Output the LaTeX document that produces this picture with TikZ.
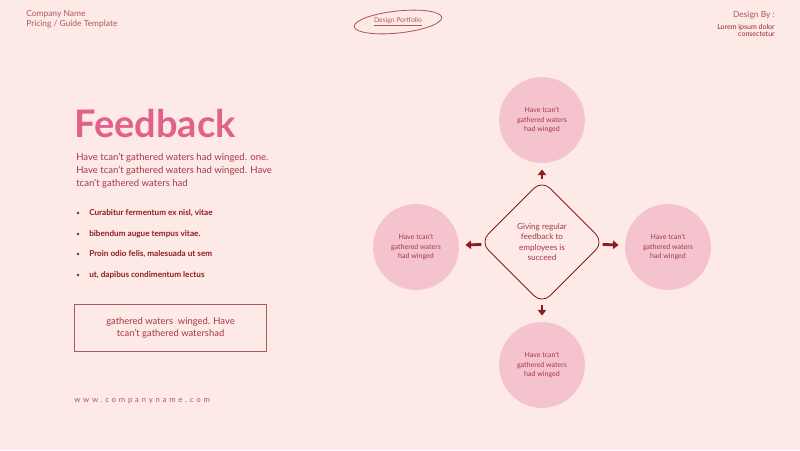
\documentclass[tikz,border=0pt]{standalone}
\usepackage{fontspec}
\setmainfont{Lato}
\usetikzlibrary{shapes.geometric,arrows.meta}
\definecolor{bgpink}{HTML}{FDE9E5}
\definecolor{petal}{HTML}{F4C3CD}
\definecolor{rose}{HTML}{E0628A}
\definecolor{dusty}{HTML}{B0585E}
\definecolor{wine}{HTML}{A3384A}
\definecolor{maroon}{HTML}{8C1C22}
\newcommand{\fsz}[2]{\fontsize{#1}{#2}\selectfont}
\begin{document}
\begin{tikzpicture}[x=0.025cm, y=-0.025cm, line join=round, line cap=round,
	>={Triangle[length=4pt,width=6pt]},
	circ/.style={circle, fill=petal, minimum size=61pt, inner sep=0pt,
		align=center, text=wine, font=\fsz{5}{7}},
	hub/.style={diamond, draw=maroon, line width=0.6pt, rounded corners=8pt,
		minimum size=88pt, inner sep=0pt, align=center, text=wine, font=\fsz{5.8}{7.5}},
	arr/.style={->, line width=2pt, draw=maroon, line cap=butt,
		shorten <=0.5pt, shorten >=4.5pt}]
	\useasboundingbox[fill=bgpink] (0,0) rectangle (800,450);
	\node[anchor=north west, align=left, text=dusty, font=\fsz{6}{7.2}, inner sep=0pt]
		(company) at (26,10) {Company Name\\Pricing / Guide Template};
	\node[text=dusty, font=\fsz{4.8}{6}, inner sep=0pt] (port) at (398,22)
		{\underline{Design Portfolio}};
	\draw[dusty, line width=0.6pt, rotate around={6:(port.center)}]
		(port.center) ellipse [x radius=44, y radius=11];
	\node[anchor=east, text=dusty, font=\fsz{6}{7}, inner sep=0pt] (designby) at (775,15) {Design By :};
	\node[anchor=north east, align=right, text=maroon!80!dusty, font=\fsz{5}{5.2}, inner sep=0pt]
		(lorem) at (775,24) {Lorem ipsum dolor\\consectetur};
	\node[anchor=base west, text=rose, font=\fsz{27}{30}\bfseries, inner sep=0pt]
		(title) at (74,137) {Feedback};
	\node[anchor=north west, align=left, text=wine, font=\fsz{6.8}{9.3}, inner sep=0pt]
		(intro) at (76,153) {Have tcan't gathered waters had winged. one.\\
		Have tcan't gathered waters had winged. Have\\tcan't gathered waters had};
	\foreach \y/\txt in {213/{Curabitur fermentum ex nisl, vitae}, 234/{bibendum augue tempus vitae.},
		254/{Proin odio felis, malesuada ut sem}, 275/{ut, dapibus condimentum lectus}}{
		\fill[maroon] (78,\y) circle (0.9pt);
		\node[anchor=west, text=maroon, font=\fsz{5.8}{7}\bfseries, inner sep=0pt] at (89,\y) {\txt};
	}
	\node[draw=dusty, line width=0.8pt, minimum width=137pt, minimum height=34pt,
		align=center, text=wine, font=\fsz{6.7}{8.3}] (note) at (170.5,328)
		{gathered waters\ \ winged. Have\\tcan't gathered watershad};
	\node[anchor=west, text=dusty, font=\fsz{5.5}{7}\addfontfeature{LetterSpace=36}, inner sep=0pt]
		(web) at (74,401) {www.companyname.com};
	\node[hub] (hub) at (542,242) {Giving regular\\feedback to\\employees is\\succeed};
	\node[circ] (top) at (542,120) {Have tcan't\\gathered waters\\had winged};
	\node[circ] (left) at (416,247) {Have tcan't\\gathered waters\\had winged};
	\node[circ] (right) at (668,247) {Have tcan't\\gathered waters\\had winged};
	\node[circ] (bottom) at (542,365) {Have tcan't\\gathered waters\\had winged};
	\foreach \t in {top,left,right,bottom}
		\draw[arr] (hub) -- (\t);
\end{tikzpicture}
\end{document}
